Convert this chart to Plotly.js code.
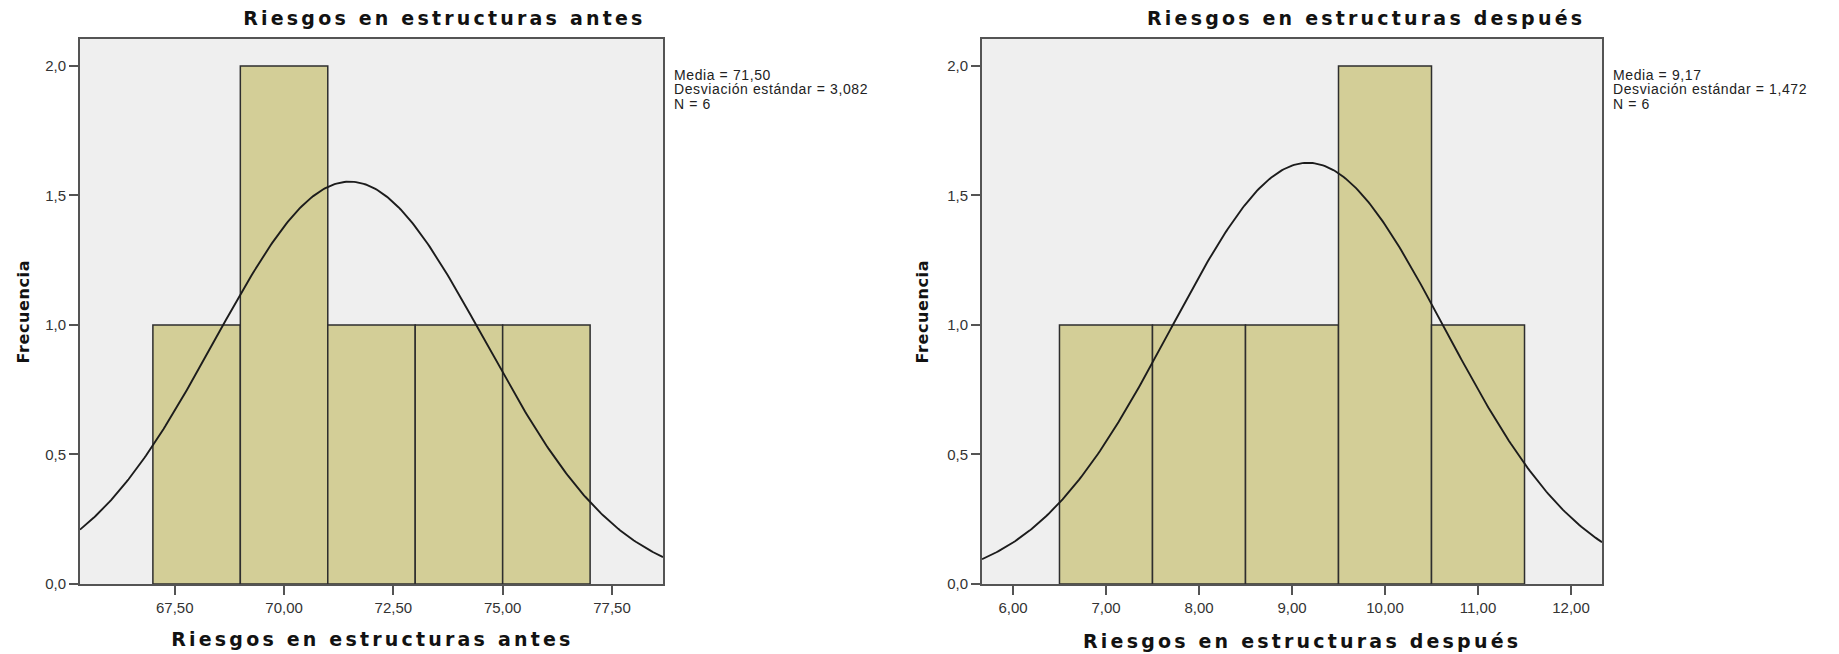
<!DOCTYPE html>
<html>
<head>
<meta charset="utf-8">
<script src="https://cdn.plot.ly/plotly-3.0.1.min.js"></script>
<style>
  html, body { margin: 0; padding: 0; background: #ffffff; }
  #chart { width: 1839px; height: 654px; }
</style>
</head>
<body>
<div id="chart"></div>
<script>
// ---------- data ----------
const antesBinCenters   = [68, 70, 72, 74, 76];
const antesCounts       = [1, 2, 1, 1, 1];
const antesBinWidth     = 2;
const antesMean         = 71.50;
const antesSD           = 3.082;
const antesN            = 6;

const despuesBinCenters = [7, 8, 9, 10, 11];
const despuesCounts     = [1, 1, 1, 2, 1];
const despuesBinWidth   = 1;
const despuesMean       = 9.17;
const despuesSD         = 1.472;
const despuesN          = 6;

const titleAntes   = "Riesgos en estructuras antes";
const titleDespues = "Riesgos en estructuras después";
const yLabel       = "Frecuencia";
const statLabels   = ["Media = ", "Desviación estándar = ", "N = "];

// ---------- helpers ----------
const fmt = (v, d) => v.toFixed(d).replace(".", ",");

function normalCurve(mean, sd, n, bw, lo, hi, steps) {
  const xs = [], ys = [];
  for (let i = 0; i <= steps; i++) {
    const x = lo + (hi - lo) * i / steps;
    const z = (x - mean) / sd;
    xs.push(x);
    ys.push(n * bw * Math.exp(-0.5 * z * z) / (sd * Math.sqrt(2 * Math.PI)));
  }
  return {xs, ys};
}

const rangeAntes   = [65.333, 78.667];
const rangeDespues = [5.667, 12.333];
const yRange       = [0, 2.104];

const barColor  = "#D3CE97";
const edgeColor = "#2e2e2e";
const frameCol  = "#545454";

const cA = normalCurve(antesMean, antesSD, antesN, antesBinWidth, rangeAntes[0], rangeAntes[1], 300);
const cD = normalCurve(despuesMean, despuesSD, despuesN, despuesBinWidth, rangeDespues[0], rangeDespues[1], 300);

const traces = [
  {type: "bar", x: antesBinCenters, y: antesCounts, width: antesBinCenters.map(() => antesBinWidth),
   marker: {color: barColor, line: {color: edgeColor, width: 1.5}}, xaxis: "x", yaxis: "y", hoverinfo: "skip"},
  {type: "scatter", mode: "lines", x: cA.xs, y: cA.ys, line: {color: "#1c1c1c", width: 1.9},
   xaxis: "x", yaxis: "y", hoverinfo: "skip"},
  {type: "bar", x: despuesBinCenters, y: despuesCounts, width: despuesBinCenters.map(() => despuesBinWidth),
   marker: {color: barColor, line: {color: edgeColor, width: 1.5}}, xaxis: "x2", yaxis: "y2", hoverinfo: "skip"},
  {type: "scatter", mode: "lines", x: cD.xs, y: cD.ys, line: {color: "#1c1c1c", width: 1.9},
   xaxis: "x2", yaxis: "y2", hoverinfo: "skip"}
];

// ---------- layout ----------
const W = 1839, H = 654;
const mL = 80, mR = 237, mT = 39, mB = 70;
const pw = W - mL - mR, ph = H - mT - mB;
const px = x => (x - mL) / pw;          // pixel -> paper x
const py = y => (H - mB - y) / ph;      // pixel -> paper y

const tickFont = {family: "Liberation Sans, Arial, sans-serif", size: 15, color: "#333333"};
const boldFont = {family: "DejaVu Sans, sans-serif", size: 19, color: "#121212", weight: "bold"};
const statFont = {family: "Liberation Sans, Arial, sans-serif", size: 14, color: "#222222"};

function xAxis(range, tick0, dtick, domain, anchor) {
  return {domain, range, anchor, tickmode: "linear", tick0, dtick, tickformat: ".2f",
    showgrid: false, zeroline: false, showline: true, mirror: true, linecolor: frameCol, linewidth: 2,
    ticks: "outside", ticklen: 9, tickwidth: 2, tickcolor: frameCol, tickfont: tickFont, fixedrange: true};
}
function yAxis(anchor) {
  return {domain: [0, 1], range: yRange, anchor, tickmode: "linear", tick0: 0, dtick: 0.5, tickformat: ".1f",
    showgrid: false, zeroline: false, showline: true, mirror: true, linecolor: frameCol, linewidth: 2,
    ticks: "outside", ticklen: 9, tickwidth: 2, tickcolor: frameCol, tickfont: tickFont, fixedrange: true};
}

const annots = [];
const spacing = [];
function addAnn(a, ls) { annots.push(Object.assign({showarrow: false, xref: "paper", yref: "paper"}, a)); spacing.push(ls); }

// top titles
addAnn({text: titleAntes, x: px(444), y: py(18), xanchor: "center", yanchor: "middle", font: boldFont}, "3.2px");
addAnn({text: titleDespues, x: px(1366), y: py(18), xanchor: "center", yanchor: "middle", font: boldFont}, "3.2px");
// bottom axis titles
addAnn({text: titleAntes, x: px(372), y: py(639), xanchor: "center", yanchor: "middle", font: boldFont}, "3.2px");
addAnn({text: titleDespues, x: px(1302), y: py(641), xanchor: "center", yanchor: "middle", font: boldFont}, "3.2px");
// y titles
addAnn({text: yLabel, x: px(23), y: 0.5, xanchor: "center", yanchor: "middle", textangle: -90,
        font: Object.assign({}, boldFont, {size: 16})}, "0.6px");
addAnn({text: yLabel, x: px(922), y: 0.5, xanchor: "center", yanchor: "middle", textangle: -90,
        font: Object.assign({}, boldFont, {size: 16})}, "0.6px");
// stats
const statsA = [statLabels[0] + fmt(antesMean, 2), statLabels[1] + fmt(antesSD, 3), statLabels[2] + antesN];
const statsD = [statLabels[0] + fmt(despuesMean, 2), statLabels[1] + fmt(despuesSD, 3), statLabels[2] + despuesN];
const statY = [75, 89.5, 104];
statsA.forEach((t, i) => addAnn({text: t, x: px(672), y: py(statY[i]), xanchor: "left", yanchor: "middle", align: "left", font: statFont}, "0.6px"));
statsD.forEach((t, i) => addAnn({text: t, x: px(1611), y: py(statY[i]), xanchor: "left", yanchor: "middle", align: "left", font: statFont}, "0.6px"));

const layout = {
  width: W, height: H,
  margin: {l: mL, r: mR, t: mT, b: mB, pad: 0},
  paper_bgcolor: "#ffffff",
  plot_bgcolor: "#EFEFEF",
  separators: ",.",
  showlegend: false,
  bargap: 0,
  xaxis: xAxis(rangeAntes, 67.5, 2.5, [0, px(663)], "y"),
  yaxis: yAxis("x"),
  xaxis2: xAxis(rangeDespues, 6, 1, [px(982), 1], "y2"),
  yaxis2: yAxis("x2"),
  annotations: annots
};

Plotly.newPlot("chart", traces, layout, {displayModeBar: false, staticPlot: true}).then(gd => {
  gd.querySelectorAll("g.annotation").forEach(g => {
    const idx = +g.getAttribute("data-index");
    const t = g.querySelector("text.annotation-text");
    if (t && spacing[idx]) t.style.letterSpacing = spacing[idx];
  });
});
</script>
</body>
</html>
